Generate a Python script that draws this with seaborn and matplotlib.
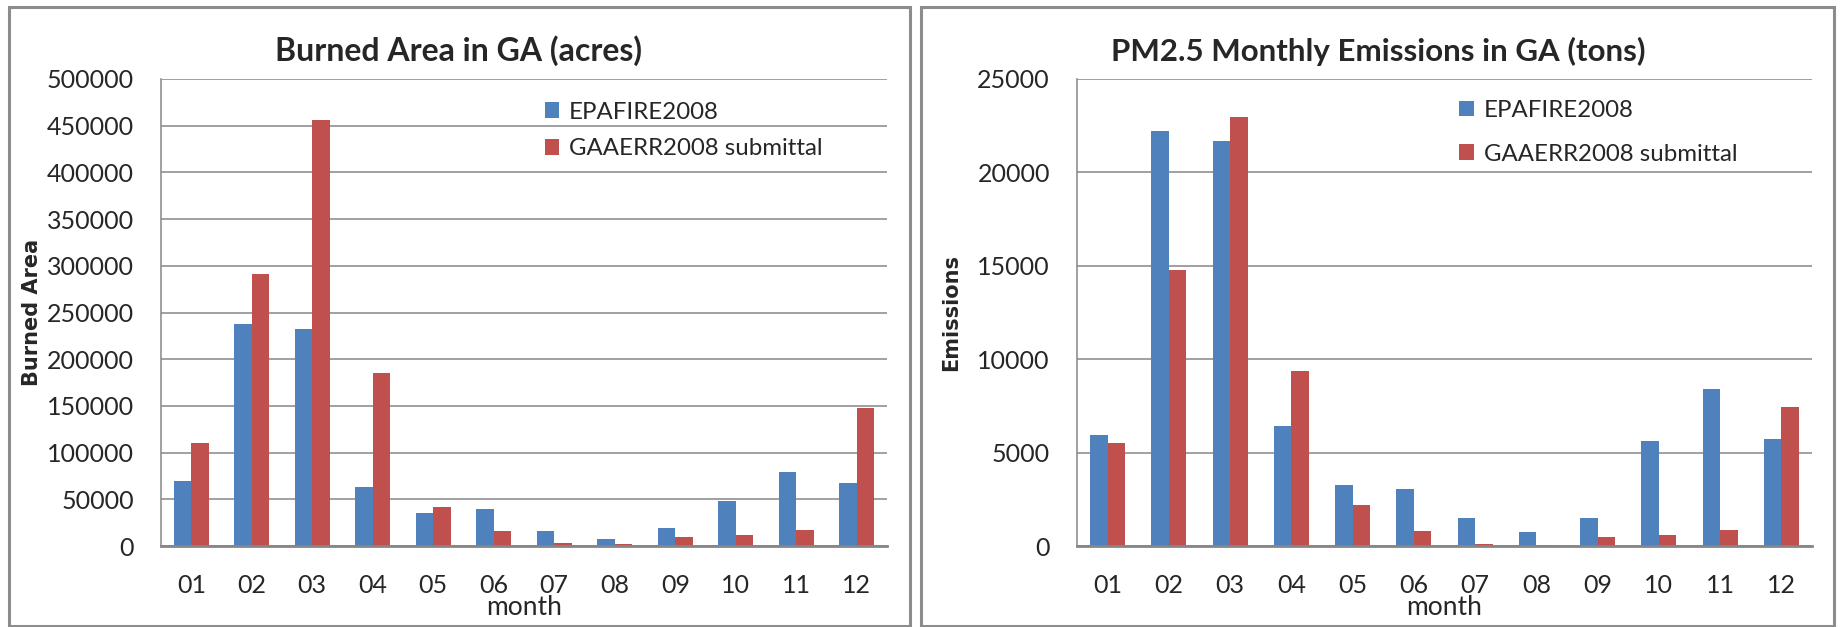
import numpy as np
import pandas as pd
import matplotlib
matplotlib.use("Agg")
import matplotlib.pyplot as plt
from matplotlib.patches import Rectangle
import seaborn as sns

# monthly values
months = ["01", "02", "03", "04", "05", "06", "07", "08", "09", "10", "11", "12"]
series_names = ["EPAFIRE2008", "GAAERR2008 submittal"]

area_epa = [70000, 238000, 232000, 63000, 35500, 40000, 16000, 7000, 19500, 48500, 79500, 67000]
area_ga = [110000, 291500, 456000, 185500, 42000, 16500, 2800, 1700, 10000, 12000, 17500, 148000]

pm_epa = [5950, 22200, 21700, 6450, 3280, 3060, 1520, 770, 1520, 5640, 8420, 5750]
pm_ga = [5530, 14750, 22950, 9350, 2200, 820, 130, 60, 490, 600, 880, 7460]

area_ticks = [0, 50000, 100000, 150000, 200000, 250000, 300000, 350000, 400000, 450000, 500000]
pm_ticks = [0, 5000, 10000, 15000, 20000, 25000]

BLUE = "#4F81BD"
RED = "#C0504D"
GRID = "#868686"
FRAME = "#8C8C8C"


def long_frame(epa, ga):
    return pd.DataFrame({
        "month": months * 2,
        "value": list(epa) + list(ga),
        "source": [series_names[0]] * len(months) + [series_names[1]] * len(months),
    })


def draw_panel(ax, df, ticks, title, title_size, ylabel, ylabel_x, legend_anchor, spacing):
    sns.barplot(data=df, x="month", y="value", hue="source", order=months,
                hue_order=series_names, palette=[BLUE, RED], saturation=1,
                width=0.572, errorbar=None, linewidth=0, ax=ax)

    ax.set_ylim(ticks[0], ticks[-1])
    ax.set_yticks(ticks)
    ax.set_yticklabels([str(t) for t in ticks])
    ax.set_xlim(-0.5, len(months) - 0.5)
    ax.set_xticks(range(len(months)))
    ax.set_xticklabels(months)
    ax.set_xticks(np.arange(-0.5, len(months), 1.0), minor=True)

    ax.yaxis.grid(True, color=GRID, linewidth=1.1)
    ax.xaxis.grid(False)
    ax.set_axisbelow(True)

    for side in ["top", "right"]:
        ax.spines[side].set_visible(False)
    ax.spines["left"].set_color(GRID)
    ax.spines["left"].set_linewidth(1.1)
    ax.spines["bottom"].set_color(GRID)
    ax.spines["bottom"].set_linewidth(2)
    ax.spines["bottom"].set_zorder(3)

    ax.tick_params(axis="y", which="major", length=6.5, width=1.1, color=GRID,
                   pad=13, labelsize=18)
    ax.tick_params(axis="x", which="major", length=0, pad=20, labelsize=18)
    ax.tick_params(axis="x", which="minor", length=7, width=1.4, color=GRID)

    ax.set_title(title, x=0.41, y=1.0, pad=13, fontsize=title_size, fontweight="bold",
                 family=["Lato", "DejaVu Sans"])
    ax.set_xlabel("month", fontsize=19)
    ax.xaxis.set_label_coords(0.5, -0.104)
    ax.set_ylabel(ylabel, fontsize=15, fontweight="bold", family=["DejaVu Sans"])
    ax.yaxis.set_label_coords(ylabel_x, 0.5)

    sns.move_legend(ax, "upper left", bbox_to_anchor=legend_anchor, frameon=False,
                    title=None, fontsize=17.3, handlelength=0.62, handleheight=0.62,
                    handletextpad=0.4, labelspacing=spacing, borderaxespad=0)


def main():
    sns.set_style("white")
    plt.rcParams["font.family"] = ["Lato", "DejaVu Sans"]

    W, H = 1841, 627
    fig = plt.figure(figsize=(W / 100, H / 100), dpi=100)
    fig.patch.set_facecolor("white")

    # grey frames around each chart
    for x0, x1 in [(9, 910), (921, 1834)]:
        fig.patches.append(Rectangle((x0 / W, 1 / H), (x1 - x0) / W, (619) / H,
                                     transform=fig.transFigure, fill=False,
                                     edgecolor=FRAME, linewidth=2.2, zorder=0))

    ax1 = fig.add_axes([161 / W, 1 - 546 / H, 726 / W, 467 / H])
    ax2 = fig.add_axes([1077 / W, 1 - 546 / H, 735 / W, 467 / H])

    draw_panel(ax1, long_frame(area_epa, area_ga), area_ticks,
               "Burned Area in GA (acres)", 23, "Burned Area", -0.164, (0.515, 0.972), 0.65)
    draw_panel(ax2, long_frame(pm_epa, pm_ga), pm_ticks,
               "PM2.5 Monthly Emissions in GA (tons)", 22.5, "Emissions", -0.158,
               (0.507, 0.976), 0.95)

    fig.savefig("out.png", dpi=100)


if __name__ == "__main__":
    main()
